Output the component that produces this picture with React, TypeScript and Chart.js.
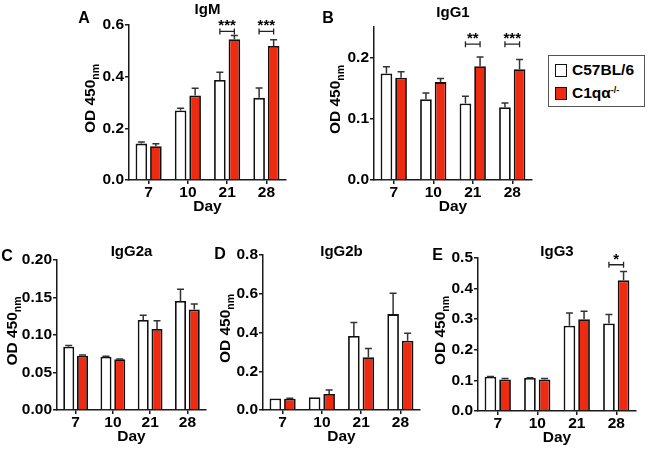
import React, { useEffect, useRef } from 'react';
import { Chart, registerables } from 'chart.js';

Chart.register(...registerables);

// ---------- data ----------
const days = ['7', '10', '21', '28'];
const seriesNames = ['C57BL/6', 'C1qα'];
const seriesSup = ['', '-/-'];

const igmWt = [0.141, 0.269, 0.387, 0.318];
const igmWtErr = [0.006, 0.009, 0.030, 0.038];
const igmKo = [0.131, 0.327, 0.545, 0.519];
const igmKoErr = [0.009, 0.028, 0.014, 0.024];

const igg1Wt = [0.174, 0.132, 0.125, 0.119];
const igg1WtErr = [0.011, 0.010, 0.012, 0.007];
const igg1Ko = [0.167, 0.160, 0.186, 0.181];
const igg1KoErr = [0.010, 0.006, 0.015, 0.016];

const igg2aWt = [0.0845, 0.0711, 0.120, 0.1455];
const igg2aWtErr = [0.0015, 0.0005, 0.0065, 0.0155];
const igg2aKo = [0.0725, 0.0676, 0.108, 0.134];
const igg2aKoErr = [0.001, 0.0005, 0.011, 0.0075];

const igg2bWt = [0.060, 0.066, 0.382, 0.495];
const igg2bWtErr = [0.0, 0.0, 0.070, 0.107];
const igg2bKo = [0.058, 0.083, 0.272, 0.358];
const igg2bKoErr = [0.003, 0.020, 0.046, 0.038];

const igg3Wt = [0.112, 0.108, 0.279, 0.286];
const igg3WtErr = [0.001, 0.001, 0.041, 0.029];
const igg3Ko = [0.103, 0.103, 0.300, 0.427];
const igg3KoErr = [0.003, 0.003, 0.026, 0.029];

const igmTicks = [0, 0.2, 0.4, 0.6];
const igmTickLabels = ['0.0', '0.2', '0.4', '0.6'];
const igg1Ticks = [0, 0.1, 0.2];
const igg1TickLabels = ['0.0', '0.1', '0.2'];
const igg2aTicks = [0, 0.05, 0.1, 0.15, 0.2];
const igg2aTickLabels = ['0.00', '0.05', '0.10', '0.15', '0.20'];
const igg2bTicks = [0, 0.2, 0.4, 0.6, 0.8];
const igg2bTickLabels = ['0.0', '0.2', '0.4', '0.6', '0.8'];
const igg3Ticks = [0, 0.1, 0.2, 0.3, 0.4, 0.5];
const igg3TickLabels = ['0.0', '0.1', '0.2', '0.3', '0.4', '0.5'];

const igmSig = [{ day: 2, stars: '***' }, { day: 3, stars: '***' }];
const igg1Sig = [{ day: 2, stars: '**' }, { day: 3, stars: '***' }];
const igg3Sig = [{ day: 3, stars: '*' }];
const igmSigLevel = 0.575;
const igg1SigLevel = 0.222;
const igg3SigLevel = 0.478;

// ---------- styles ----------
const RED = '#EE2B10';
const AXIS = '#1a1a1a';
const FONT = '"Liberation Sans", Arial, Helvetica, sans-serif';
const W = 649;
const H = 450;
const YW = 50;
const XH = 34;

type PanelCfg = {
  title: string;
  letter: string;
  wt: number[]; wtErr: number[]; ko: number[]; koErr: number[];
  max: number; ticks: number[]; tickLabels: string[];
  sig: { day: number; stars: string }[]; sigLevel: number;
  box: { left: number; right: number; top: number; bottom: number };
  letterPos: [number, number];
  titleY: number;
  yTitleOffset: number;
};

const panels: PanelCfg[] = [
  {
    title: 'IgM', letter: 'A', wt: igmWt, wtErr: igmWtErr, ko: igmKo, koErr: igmKoErr,
    max: 0.6, ticks: igmTicks, tickLabels: igmTickLabels, sig: igmSig, sigLevel: igmSigLevel,
    box: { left: 129, right: 286, top: 25, bottom: 180 }, letterPos: [84, 18.5], titleY: 10, yTitleOffset: 34,
  },
  {
    title: 'IgG1', letter: 'B', wt: igg1Wt, wtErr: igg1WtErr, ko: igg1Ko, koErr: igg1KoErr,
    max: 0.25, ticks: igg1Ticks, tickLabels: igg1TickLabels, sig: igg1Sig, sigLevel: igg1SigLevel,
    box: { left: 374, right: 532, top: 27, bottom: 180 }, letterPos: [328, 18.5], titleY: 13, yTitleOffset: 34,
  },
  {
    title: 'IgG2a', letter: 'C', wt: igg2aWt, wtErr: igg2aWtErr, ko: igg2aKo, koErr: igg2aKoErr,
    max: 0.2, ticks: igg2aTicks, tickLabels: igg2aTickLabels, sig: [], sigLevel: 0,
    box: { left: 57, right: 206, top: 260, bottom: 410 }, letterPos: [7, 257], titleY: 252, yTitleOffset: 40,
  },
  {
    title: 'IgG2b', letter: 'D', wt: igg2bWt, wtErr: igg2bWtErr, ko: igg2bKo, koErr: igg2bKoErr,
    max: 0.8, ticks: igg2bTicks, tickLabels: igg2bTickLabels, sig: [], sigLevel: 0,
    box: { left: 263, right: 420, top: 255, bottom: 410 }, letterPos: [220, 255], titleY: 252, yTitleOffset: 33,
  },
  {
    title: 'IgG3', letter: 'E', wt: igg3Wt, wtErr: igg3WtErr, ko: igg3Ko, koErr: igg3KoErr,
    max: 0.5, ticks: igg3Ticks, tickLabels: igg3TickLabels, sig: igg3Sig, sigLevel: igg3SigLevel,
    box: { left: 478, right: 636, top: 258, bottom: 411 }, letterPos: [437.5, 256], titleY: 252, yTitleOffset: 33,
  },
];

function makeAnnotPlugin(cfg: PanelCfg) {
  return {
    id: 'annot_' + cfg.letter,
    afterDatasetsDraw(chart: any) {
      const ctx = chart.ctx;
      const yScale = chart.scales.y;
      const errs = [cfg.wtErr, cfg.koErr];
      const vals = [cfg.wt, cfg.ko];
      ctx.save();
      ctx.strokeStyle = '#333';
      ctx.lineWidth = 1.5;
      for (let d = 0; d < 2; d++) {
        const meta = chart.getDatasetMeta(d);
        meta.data.forEach((bar: any, i: number) => {
          const e = errs[d][i];
          if (!e) return;
          const y0 = yScale.getPixelForValue(vals[d][i]);
          const y1 = yScale.getPixelForValue(vals[d][i] + e);
          ctx.beginPath();
          ctx.moveTo(bar.x, y0);
          ctx.lineTo(bar.x, y1);
          ctx.moveTo(bar.x - 3.5, y1);
          ctx.lineTo(bar.x + 3.5, y1);
          ctx.stroke();
        });
      }
      // significance brackets
      const m0 = chart.getDatasetMeta(0);
      const m1 = chart.getDatasetMeta(1);
      ctx.strokeStyle = '#222';
      ctx.lineWidth = 1.3;
      ctx.fillStyle = '#000';
      ctx.font = `bold 15px ${FONT}`;
      ctx.textAlign = 'center';
      ctx.textBaseline = 'alphabetic';
      cfg.sig.forEach((s) => {
        const xa = m0.data[s.day].x;
        const xb = m1.data[s.day].x;
        const y = yScale.getPixelForValue(cfg.sigLevel);
        ctx.beginPath();
        ctx.moveTo(xa, y);
        ctx.lineTo(xb, y);
        ctx.moveTo(xa, y - 3);
        ctx.lineTo(xa, y + 3);
        ctx.moveTo(xb, y - 3);
        ctx.lineTo(xb, y + 3);
        ctx.stroke();
        ctx.fillText(s.stars, (xa + xb) / 2, y - 1);
      });
      ctx.restore();
    },
    afterDraw(chart: any) {
      const ctx = chart.ctx;
      const area = chart.chartArea;
      ctx.save();
      ctx.fillStyle = '#000';
      // letter
      ctx.font = `bold 16px ${FONT}`;
      ctx.textAlign = 'center';
      ctx.textBaseline = 'middle';
      ctx.fillText(cfg.letter, cfg.letterPos[0], cfg.letterPos[1]);
      // title
      ctx.font = `bold 15px ${FONT}`;
      ctx.fillText(cfg.title, (area.left + area.right) / 2, cfg.titleY);
      // y title with subscript
      const main = 'OD 450';
      const sub = 'nm';
      ctx.font = `bold 15.5px ${FONT}`;
      const w1 = ctx.measureText(main).width;
      ctx.font = `bold 10.5px ${FONT}`;
      const w2 = ctx.measureText(sub).width;
      const total = w1 + w2;
      ctx.translate(area.left - cfg.yTitleOffset, (area.top + area.bottom) / 2 - 4);
      ctx.rotate(-Math.PI / 2);
      ctx.textAlign = 'left';
      ctx.textBaseline = 'alphabetic';
      ctx.font = `bold 15.5px ${FONT}`;
      ctx.fillText(main, -total / 2, 0);
      ctx.font = `bold 10.5px ${FONT}`;
      ctx.fillText(sub, -total / 2 + w1, 4);
      ctx.restore();
    },
  };
}

function Panel({ cfg }: { cfg: PanelCfg }) {
  const ref = useRef<HTMLCanvasElement>(null);
  useEffect(() => {
    const b = cfg.box;
    const font = { family: FONT, size: 15.5, weight: 'bold' as const, lineHeight: 1 };
    const chart = new Chart(ref.current as HTMLCanvasElement, {
      type: 'bar',
      data: {
        labels: days,
        datasets: [
          { label: seriesNames[0], data: cfg.wt, backgroundColor: '#ffffff', borderColor: '#111', borderWidth: 1.8 },
          { label: seriesNames[1] + seriesSup[1], data: cfg.ko, backgroundColor: RED, borderColor: '#111', borderWidth: 1.8 },
        ],
      },
      options: {
        responsive: false,
        animation: false,
        events: [],
        layout: { padding: { left: b.left - YW, right: W - b.right, top: b.top, bottom: H - b.bottom - XH } },
        datasets: { bar: { categoryPercentage: 0.74, barPercentage: 0.8 } },
        plugins: { legend: { display: false }, tooltip: { enabled: false }, title: { display: false } },
        scales: {
          x: {
            offset: true,
            grid: { display: true, drawOnChartArea: false, drawTicks: true, tickLength: 4, color: AXIS, lineWidth: 1.5, offset: false },
            border: { display: true, color: AXIS, width: 1.5 },
            ticks: { color: '#000', font, padding: 1, autoSkip: false, maxRotation: 0 },
            title: { display: true, text: 'Day', color: '#000', font: { family: FONT, size: 15.5, weight: 'bold', lineHeight: 1 }, padding: 0 },
            afterFit: (s: any) => { s.height = XH; },
          },
          y: {
            min: 0,
            max: cfg.max,
            grid: { display: true, drawOnChartArea: false, drawTicks: true, tickLength: 4, color: AXIS, lineWidth: 1.5 },
            border: { display: true, color: AXIS, width: 1.5 },
            ticks: { color: '#000', font, padding: 1, callback: (_v: any, i: number) => cfg.tickLabels[i] },
            afterBuildTicks: (s: any) => { s.ticks = cfg.ticks.map((v) => ({ value: v })); },
            afterFit: (s: any) => { s.width = YW; },
          },
        },
      } as any,
      plugins: [makeAnnotPlugin(cfg)],
    });
    return () => chart.destroy();
  }, [cfg]);
  return <canvas ref={ref} width={W} height={H} style={{ position: 'absolute', left: 0, top: 0, width: W, height: H }} />;
}

function Legend() {
  const colors = ['#ffffff', RED];
  return (
    <div style={{ position: 'absolute', left: 548, top: 55, width: 97, height: 52, border: '1px solid #555', background: '#fff', boxSizing: 'border-box', fontFamily: FONT, fontWeight: 'bold', fontSize: 15.5, color: '#000' }}>
      {seriesNames.map((name, i) => (
        <div key={name} style={{ position: 'absolute', left: 6, top: 7 + i * 23, height: 14, display: 'flex', alignItems: 'center', whiteSpace: 'nowrap' }}>
          <div style={{ width: 12, height: 13, border: '1.5px solid #111', background: colors[i], boxSizing: 'border-box', marginRight: 5 }} />
          <span style={{ lineHeight: '14px' }}>
            {name}
            {seriesSup[i] ? <sup style={{ fontSize: 9, verticalAlign: 'top', position: 'relative', top: -3 }}>{seriesSup[i]}</sup> : null}
          </span>
        </div>
      ))}
    </div>
  );
}

export default function App() {
  return (
    <div style={{ position: 'fixed', left: 0, top: 0, width: W, height: H, background: '#fff', overflow: 'hidden' }}>
      {panels.map((p) => (
        <Panel key={p.letter} cfg={p} />
      ))}
      <Legend />
    </div>
  );
}
